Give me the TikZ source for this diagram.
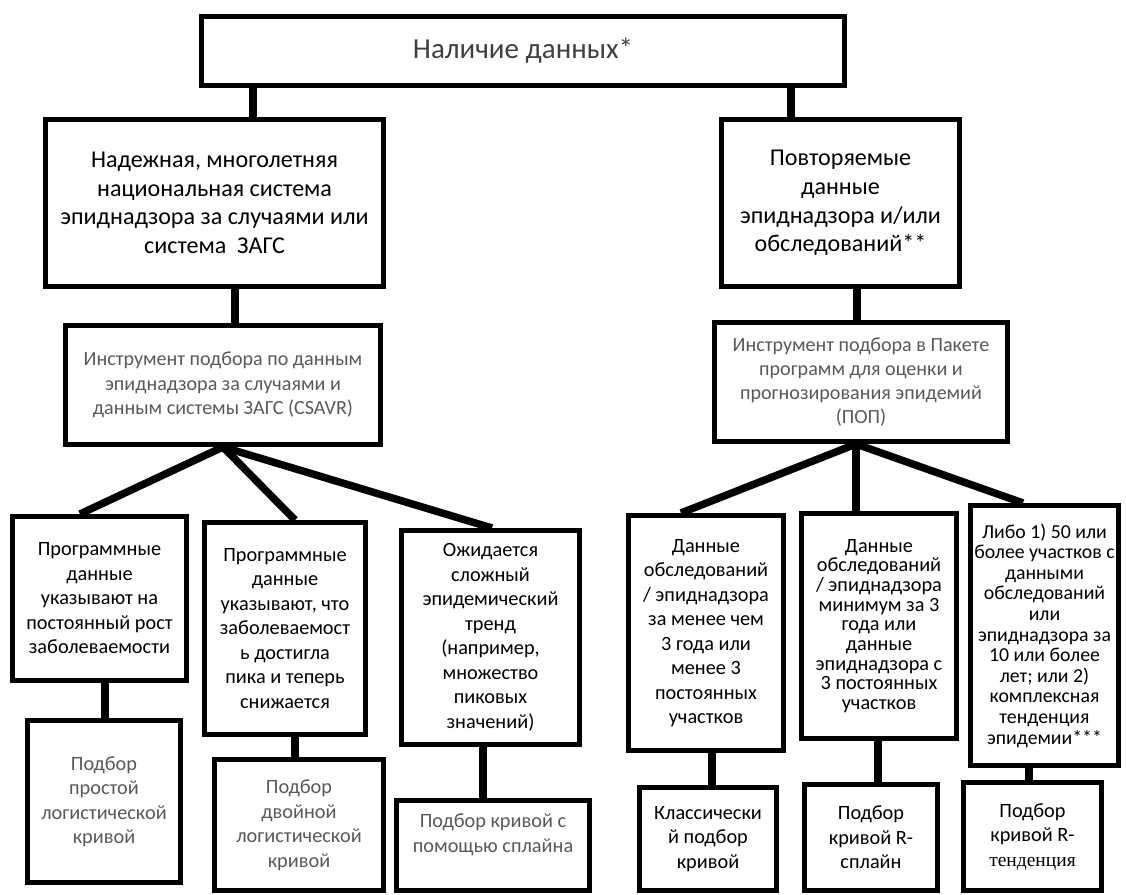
\documentclass[tikz,border=0pt]{standalone}
\usepackage{fontspec}
\setmainfont{Carlito}
\newfontfamily\serifface{Liberation Serif}
\definecolor{txtgray}{HTML}{595959}
\definecolor{topgray}{HTML}{404040}
\begin{document}
\begin{tikzpicture}[x=1pt,y=-1pt,
  box/.style={draw=black, line width=5pt, align=center, inner sep=0pt},
  conn/.style={draw=black, line width=7.5pt},
  toptxt/.style={font={\fontsize{29}{34}\selectfont}, text=topgray},
  bigtxt/.style={font={\fontsize{24.1}{28.7}\selectfont}, text=black},
  midtxt/.style={font={\fontsize{20.3}{24.5}\selectfont}, text=black},
  tighttxt/.style={font={\fontsize{20.3}{19.7}\selectfont}, text=black},
  ctxt/.style={font={\fontsize{19.8}{20.6}\selectfont}, text=black},
  graytxt/.style={font={\fontsize{20.1}{24.2}\selectfont}, text=txtgray},
  lowgray/.style={font={\fontsize{20.3}{24.5}\selectfont}, text=txtgray}
]
\useasboundingbox (0,0) rectangle (1126,894);

% level 0
\node[box, toptxt, minimum width=643pt, minimum height=69pt] (top) at (523,51) {Наличие данных*};

% level 1
\node[box, bigtxt, minimum width=338pt, minimum height=167pt] (l1) at (214.5,203)
  {Надежная, многолетняя\\национальная система\\эпиднадзора за случаями или\\система\ \ ЗАГС};
\node[box, bigtxt, minimum width=238pt, minimum height=167pt] (r1) at (840.5,203)
  {Повторяемые\\данные\\эпиднадзора и/или\\обследований**};

% level 2
\node[box, graytxt, minimum width=315pt, minimum height=119pt] (l2) at (223,385)
  {Инструмент подбора по данным\\эпиднадзора за случаями и\\данным системы ЗАГС (CSAVR)};
\node[box, graytxt, minimum width=293pt, minimum height=119pt] (r2) at (861,382)
  {Инструмент подбора в Пакете\\программ для оценки и\\прогнозирования эпидемий\\(ПОП)};

% level 3 left
\node[box, midtxt, minimum width=174pt, minimum height=164pt] (a1) at (99.5,598.5)
  {Программные\\данные\\указывают на\\постоянный рост\\заболеваемости};
\node[box, midtxt, minimum width=161pt, minimum height=212pt] (a2) at (285,628.5)
  {Программные\\данные\\указывают, что\\заболеваемост\\ь достигла\\пика и теперь\\снижается};
\node[box, midtxt, minimum width=178pt, minimum height=214pt] (a3) at (490.5,637.5)
  {Ожидается\\сложный\\эпидемический\\тренд\\(например,\\множество\\пиковых\\значений)};

% level 3 right
\node[box, midtxt, minimum width=155pt, minimum height=235pt] (c1) at (706,633)
  {Данные\\обследований\\/ эпиднадзора\\за менее чем\\3 года или\\менее 3\\постоянных\\участков};
\node[box, tighttxt, minimum width=155pt, minimum height=225pt] (c2) at (879,626)
  {Данные\\обследований\\/ эпиднадзора\\минимум за 3\\года или\\данные\\эпиднадзора с\\3 постоянных\\участков};
\node[box, ctxt, minimum width=148pt, minimum height=260pt] (c3) at (1044.5,635.5)
  {Либо 1) 50 или\\более участков с\\данными\\обследований\\или\\эпиднадзора за\\10 или более\\лет; или 2)\\комплексная\\тенденция\\эпидемии***};

% level 4 left
\node[box, lowgray, minimum width=153pt, minimum height=162pt] (b1) at (104,801.5)
  {Подбор\\простой\\логистической\\кривой};
\node[box, lowgray, minimum width=169pt, minimum height=131pt] (b2) at (299,825)
  {Подбор\\двойной\\логистической\\кривой};
\node[box, lowgray, minimum width=193pt, minimum height=90pt] (b3) at (493,845.5)
  {Подбор кривой с\\помощью сплайна\\\mbox{}};

% level 4 right
\node[box, midtxt, minimum width=137pt, minimum height=103pt] (d1) at (708,839)
  {Классически\\й подбор\\кривой};
\node[box, midtxt, minimum width=133pt, minimum height=106pt] (d2) at (871,837.5)
  {Подбор\\кривой R-\\сплайн};
\node[box, midtxt, minimum width=138pt, minimum height=108pt] (d3) at (1032.5,836.5)
  {Подбор\\кривой R-\\{\serifface\fontsize{19.5}{24.5}\selectfont тенденция}};

% connectors
\draw[conn] (top.south -| 253,0) -- (l1.north -| 253,0);
\draw[conn] (top.south -| 791,0) -- (r1.north -| 791,0);
\draw[conn] (l1.south -| 235,0) -- (l2.north -| 235,0);
\draw[conn] (r1.south -| 857,0) -- (r2.north -| 857,0);

\draw[conn] (l2.south) -- (a1.north -| 80,0);
\draw[conn] (l2.south) -- (a2.north -| 295,0);
\draw[conn] (l2.south) -- (a3.north -| 492,0);

\draw[conn] (r2.south -| 856,0) -- (c1.north -| 681,0);
\draw[conn] (r2.south -| 856,0) -- (c2.north -| 856,0);
\draw[conn] (r2.south -| 856,0) -- (c3.north -| 1023,0);

\draw[conn] (a1.south -| 105,0) -- (b1.north -| 105,0);
\draw[conn] (a2.south -| 295,0) -- (b2.north -| 295,0);
\draw[conn] (a3.south -| 483,0) -- (b3.north -| 483,0);
\draw[conn] (c1.south -| 712,0) -- (d1.north -| 712,0);
\draw[conn] (c2.south -| 878,0) -- (d2.north -| 878,0);
\draw[conn] (c3.south -| 1029,0) -- (d3.north -| 1029,0);
\end{tikzpicture}
\end{document}
